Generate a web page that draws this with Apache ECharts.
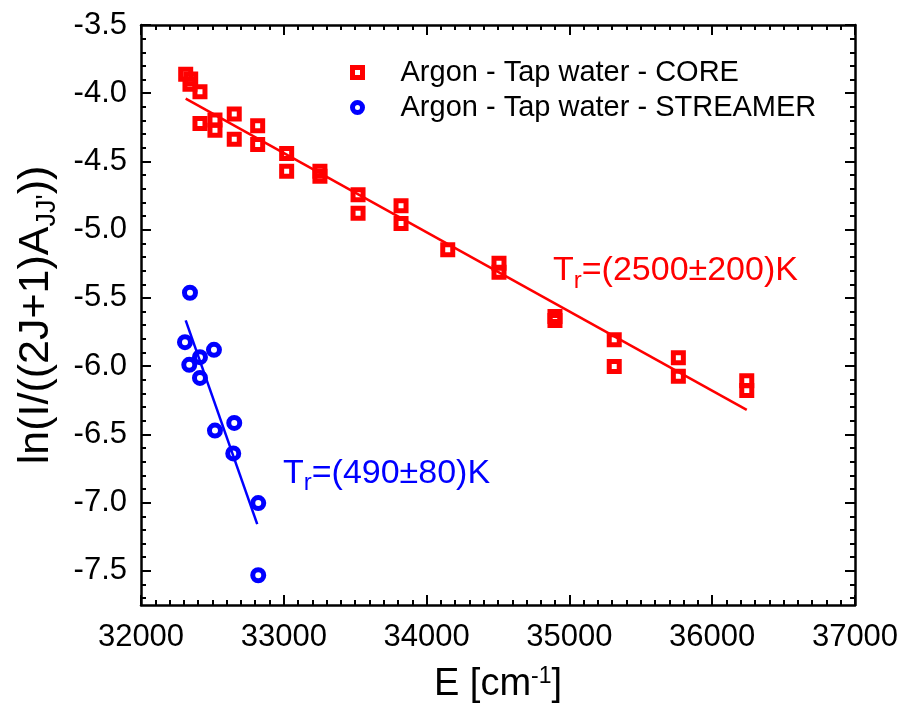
<!DOCTYPE html>
<html>
<head>
<meta charset="utf-8">
<script src="https://cdn.jsdelivr.net/npm/echarts@6/dist/echarts.min.js"></script>
<style>
  html, body { margin: 0; padding: 0; background: #ffffff; }
  #chart { width: 901px; height: 706px; }
</style>
</head>
<body>
<div id="chart"></div>
<script>
// Boltzmann plot of Ar I lines: ln(I/((2J+1)A)) against upper-level energy E
const coreE = [32313, 32348, 32343, 32413, 32413, 32518, 32518, 32653, 32653, 32817, 32817,
  33020, 33020, 33253, 33253, 33520, 33520, 33821, 33821, 34148, 34507, 34507,
  34899, 34899, 35314, 35314, 35763, 35763, 36242, 36242];
const coreLn = [-3.860, -3.896, -3.935, -3.990, -4.222, -4.197, -4.271, -4.153, -4.337, -4.239, -4.376,
  -4.442, -4.572, -4.572, -4.608, -4.744, -4.880, -4.825, -4.955, -5.146, -5.245, -5.311,
  -5.636, -5.665, -5.807, -6.003, -5.939, -6.074, -6.106, -6.179];

const streamerE = [32343, 32308, 32413, 32511, 32338, 32413, 32518, 32653, 32646, 32821, 32821];
const streamerLn = [-5.462, -5.824, -5.934, -5.880, -5.990, -6.086, -6.472, -6.416, -6.639, -7.003, -7.532];

// Linear fits (end points of each fitted line)
const coreFitE = [32313, 36242];
const coreFitLn = [-4.04, -6.32];
const streamerFitE = [32313, 32814];
const streamerFitLn = [-5.665, -7.157];

// Axis ranges and tick labels
const xRange = [32000, 37000];
const yRange = [-7.75, -3.5];
const yTickLabels = [-7.5, -7.0, -6.5, -6.0, -5.5, -5.0, -4.5, -4.0, -3.5];

// Series names and annotations
const coreName = 'Argon - Tap water - CORE';
const streamerName = 'Argon - Tap water - STREAMER';
const coreTempText = 'T{sub|r}=(2500±200)K';
const streamerTempText = 'T{sub|r}=(490±80)K';
const coreTempAt = [34885, -5.302];
const streamerTempAt = [32994, -6.784];

// Minor tick positions on the y axis, every 0.1
const yMinorTicks = [];
for (let i = -77; i <= -35; i++) {
  if (i % 5 !== 0) yMinorTicks.push(i / 10);
}

const FONT = "'Liberation Sans', Arial, Helvetica, sans-serif";
const RED = '#ff0000';
const BLUE = '#0000ff';
const BLACK = '#000000';

const zip = (xs, ys) => xs.map((x, i) => [x, ys[i]]);

const axisLine = { show: true, onZero: false, lineStyle: { color: BLACK, width: 2.5 } };

const chart = echarts.init(document.getElementById('chart'), null, { renderer: 'canvas' });

chart.setOption({
  animation: false,
  backgroundColor: '#ffffff',
  grid: { left: 141, top: 25, width: 714, height: 580, containLabel: false, outerBoundsMode: 'none' },
  legend: {
    orient: 'vertical',
    left: 350,
    top: 58,
    padding: 0,
    itemWidth: 10,
    itemHeight: 10,
    itemGap: 6,
    selectedMode: false,
    textStyle: { fontFamily: FONT, fontSize: 29, lineHeight: 29, color: BLACK, padding: [0, 0, 0, 33] },
    data: [
      { name: coreName, icon: 'rect', itemStyle: { color: 'rgba(0,0,0,0)', borderColor: RED, borderWidth: 5, opacity: 1 } },
      { name: streamerName, icon: 'circle', itemStyle: { color: 'rgba(0,0,0,0)', borderColor: BLUE, borderWidth: 5, opacity: 1 } }
    ]
  },
  xAxis: [
    {
      type: 'value', position: 'bottom', min: xRange[0], max: xRange[1], interval: 1000,
      axisLine: axisLine,
      axisTick: { show: true, inside: true, length: 10, lineStyle: { color: BLACK, width: 2 } },
      minorTick: { show: true, splitNumber: 10, length: 5, lineStyle: { color: BLACK, width: 2 } },
      axisLabel: { fontFamily: FONT, fontSize: 31, color: BLACK, margin: 17, formatter: (v) => String(v) },
      splitLine: { show: false },
      name: 'E [cm{sup|-1}]',
      nameLocation: 'middle',
      nameGap: 60,
      nameTextStyle: {
        fontFamily: FONT, fontSize: 38, lineHeight: 40, color: BLACK,
        rich: { sup: { fontFamily: FONT, fontSize: 23, lineHeight: 22, verticalAlign: 'top', color: BLACK } }
      }
    },
    {
      type: 'value', position: 'top', min: xRange[0], max: xRange[1], interval: 1000,
      axisLine: axisLine,
      axisTick: { show: true, inside: true, length: 10, lineStyle: { color: BLACK, width: 2 } },
      minorTick: { show: true, splitNumber: 10, length: 5, lineStyle: { color: BLACK, width: 2 } },
      axisLabel: { show: false },
      splitLine: { show: false }
    }
  ],
  yAxis: [
    {
      type: 'value', position: 'left', min: yRange[0], max: yRange[1],
      axisLine: axisLine,
      axisTick: { show: true, inside: true, length: 10, customValues: yTickLabels, lineStyle: { color: BLACK, width: 2 } },
      axisLabel: {
        fontFamily: FONT, fontSize: 31, color: BLACK, margin: 14,
        customValues: yTickLabels,
        formatter: (v) => v.toFixed(1)
      },
      splitLine: { show: false },
      name: "ln(I/((2J+1)A{sub|JJ'}))",
      nameLocation: 'middle',
      nameGap: 80,
      nameRotate: 90,
      nameTextStyle: {
        fontFamily: FONT, fontSize: 43, lineHeight: 50, color: BLACK,
        rich: { sub: { fontFamily: FONT, fontSize: 27, lineHeight: 27, verticalAlign: 'bottom', color: BLACK } }
      }
    },
    {
      type: 'value', position: 'left', min: yRange[0], max: yRange[1],
      axisLine: { show: false },
      axisTick: { show: true, inside: true, length: 5, customValues: yMinorTicks, lineStyle: { color: BLACK, width: 2 } },
      axisLabel: { show: false },
      splitLine: { show: false }
    },
    {
      type: 'value', position: 'right', min: yRange[0], max: yRange[1],
      axisLine: axisLine,
      axisTick: { show: true, inside: true, length: 10, customValues: yTickLabels, lineStyle: { color: BLACK, width: 2 } },
      axisLabel: { show: false },
      splitLine: { show: false }
    },
    {
      type: 'value', position: 'right', min: yRange[0], max: yRange[1],
      axisLine: { show: false },
      axisTick: { show: true, inside: true, length: 5, customValues: yMinorTicks, lineStyle: { color: BLACK, width: 2 } },
      axisLabel: { show: false },
      splitLine: { show: false }
    }
  ],
  series: [
    {
      name: coreName,
      type: 'scatter',
      symbol: 'rect',
      symbolSize: 10,
      itemStyle: { color: 'rgba(0,0,0,0)', borderColor: RED, borderWidth: 5, opacity: 1 },
      emphasis: { disabled: true },
      data: zip(coreE, coreLn),
      z: 3
    },
    {
      name: streamerName,
      type: 'scatter',
      symbol: 'circle',
      symbolSize: 11,
      itemStyle: { color: 'rgba(0,0,0,0)', borderColor: BLUE, borderWidth: 5, opacity: 1 },
      emphasis: { disabled: true },
      data: zip(streamerE, streamerLn),
      z: 3
    },
    {
      name: 'core fit',
      type: 'line',
      showSymbol: false,
      symbol: 'none',
      lineStyle: { color: RED, width: 2.5 },
      emphasis: { disabled: true },
      data: zip(coreFitE, coreFitLn),
      z: 2
    },
    {
      name: 'streamer fit',
      type: 'line',
      showSymbol: false,
      symbol: 'none',
      lineStyle: { color: BLUE, width: 2.5 },
      emphasis: { disabled: true },
      data: zip(streamerFitE, streamerFitLn),
      z: 2
    }
  ]
});

// Temperature annotations anchored in data coordinates
function tempLabel(at, text, color) {
  const p = chart.convertToPixel({ xAxisIndex: 0, yAxisIndex: 0 }, at);
  return {
    type: 'text',
    x: p[0],
    y: p[1],
    z: 10,
    style: {
      text: text,
      fill: color,
      fontFamily: FONT,
      fontSize: 34,
      lineHeight: 44,
      align: 'left',
      verticalAlign: 'middle',
      rich: {
        sub: { fontFamily: FONT, fontSize: 24, lineHeight: 20, verticalAlign: 'bottom', fill: color }
      }
    }
  };
}

chart.setOption({
  graphic: [
    tempLabel(coreTempAt, coreTempText, RED),
    tempLabel(streamerTempAt, streamerTempText, BLUE)
  ]
});
</script>
</body>
</html>
